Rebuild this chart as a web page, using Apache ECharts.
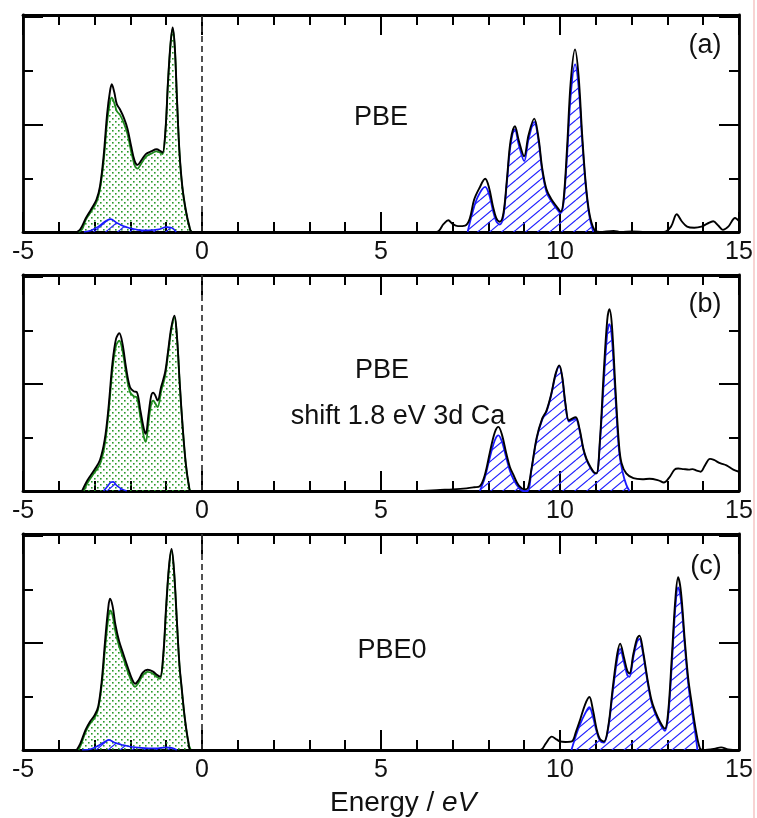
<!DOCTYPE html>
<html>
<head>
<meta charset="utf-8">
<script src="https://cdn.jsdelivr.net/npm/echarts@6/dist/echarts.min.js"></script>
<style>html,body{margin:0;padding:0;background:#fff;}#c{width:757px;height:818px;}</style>
</head>
<body>
<div id="c"></div>
<script>
// ---------- DATA ----------
const xTicks = [-5, 0, 5, 10, 15];
const panelLabels = ['(a)', '(b)', '(c)'];
const methodLabels = ['PBE', 'PBE', 'PBE0'];
const shiftLabel = 'shift 1.8 eV 3d Ca';
const xAxisTitle = 'Energy / ';
const xAxisUnit = 'eV';

// Panel (a)
const totalA = [[-3.5,0],[-3.4,0.05],[-3.25,0.25],[-3.1,0.42],[-2.95,0.6],[-2.85,0.85],[-2.75,1.4],[-2.65,2.2],[-2.57,2.62],[-2.52,2.75],[-2.45,2.6],[-2.38,2.38],[-2.29,2.28],[-2.18,2.12],[-2.08,1.92],[-1.98,1.6],[-1.88,1.32],[-1.8,1.25],[-1.7,1.33],[-1.57,1.45],[-1.42,1.5],[-1.27,1.54],[-1.15,1.5],[-1.1,1.48],[-1.02,1.9],[-0.95,2.8],[-0.88,3.5],[-0.82,3.81],[-0.76,3.45],[-0.7,2.5],[-0.63,1.5],[-0.55,0.85],[-0.45,0.4],[-0.35,0.1],[-0.28,0],[6.55,0],[6.75,0.15],[6.88,0.22],[7.0,0.15],[7.15,0.11],[7.35,0.12],[7.48,0.25],[7.6,0.6],[7.75,0.82],[7.91,0.99],[8.02,0.82],[8.12,0.5],[8.22,0.26],[8.32,0.19],[8.42,0.35],[8.52,1.0],[8.62,1.7],[8.74,1.97],[8.85,1.7],[9.0,1.41],[9.12,1.8],[9.28,2.11],[9.4,1.75],[9.5,1.2],[9.62,0.8],[9.75,0.62],[9.9,0.48],[10.02,0.38],[10.1,0.6],[10.2,1.6],[10.3,2.8],[10.42,3.4],[10.52,2.9],[10.62,1.8],[10.72,0.9],[10.82,0.35],[10.95,0.05],[11.1,0],[11.5,0.02],[11.7,0],[12.0,0.01],[12.4,0],[12.9,0],[13.1,0.1],[13.26,0.33],[13.4,0.2],[13.55,0.1],[13.75,0.08],[13.95,0.1],[14.1,0.15],[14.28,0.2],[14.42,0.12],[14.55,0.04],[14.7,0.1],[14.89,0.26],[15,0.2]];
const greenA = [[-3.45,0],[-3.35,0.05],[-3.25,0.22],[-3.1,0.38],[-2.95,0.55],[-2.85,0.8],[-2.75,1.3],[-2.65,2.05],[-2.57,2.42],[-2.52,2.5],[-2.45,2.4],[-2.38,2.25],[-2.29,2.18],[-2.18,2.02],[-2.08,1.82],[-1.98,1.5],[-1.88,1.24],[-1.8,1.18],[-1.7,1.27],[-1.57,1.4],[-1.42,1.46],[-1.27,1.5],[-1.15,1.47],[-1.1,1.45],[-1.02,1.88],[-0.95,2.78],[-0.88,3.48],[-0.82,3.78],[-0.76,3.42],[-0.7,2.48],[-0.63,1.48],[-0.55,0.83],[-0.45,0.38],[-0.35,0.08],[-0.29,0]];
const blueValA = [[-3.3,0],[-3.1,0.03],[-2.9,0.1],[-2.7,0.2],[-2.55,0.24],[-2.4,0.18],[-2.2,0.11],[-2.0,0.07],[-1.8,0.04],[-1.5,0.03],[-1.2,0.05],[-1.0,0.09],[-0.85,0.08],[-0.72,0]];
const blueCondA = [[7.42,0],[7.55,0.35],[7.7,0.65],[7.91,0.84],[8.02,0.7],[8.12,0.42],[8.22,0.2],[8.32,0.14],[8.42,0.3],[8.52,0.95],[8.62,1.62],[8.74,1.91],[8.85,1.62],[9.0,1.32],[9.12,1.72],[9.28,2.05],[9.4,1.7],[9.5,1.15],[9.62,0.75],[9.75,0.58],[9.9,0.44],[10.02,0.35],[10.1,0.55],[10.2,1.45],[10.3,2.55],[10.42,3.12],[10.52,2.7],[10.62,1.7],[10.72,0.85],[10.82,0.3],[10.93,0]];

// Panel (b)
const totalB = [[-3.35,0],[-3.2,0.2],[-3.0,0.4],[-2.85,0.58],[-2.72,0.95],[-2.62,1.5],[-2.5,2.4],[-2.4,2.85],[-2.31,2.95],[-2.22,2.75],[-2.12,2.3],[-2.01,1.94],[-1.9,1.86],[-1.82,1.85],[-1.72,1.5],[-1.62,1.15],[-1.57,1.07],[-1.5,1.4],[-1.42,1.78],[-1.36,1.84],[-1.3,1.78],[-1.24,1.69],[-1.14,1.95],[-1.03,2.22],[-0.95,2.6],[-0.86,3.05],[-0.77,3.28],[-0.7,2.9],[-0.62,2.0],[-0.54,1.2],[-0.45,0.5],[-0.36,0.08],[-0.32,0],[6.0,0],[6.65,0.02],[7.0,0.03],[7.39,0.05],[7.6,0.07],[7.76,0.09],[7.9,0.3],[8.05,0.75],[8.18,1.1],[8.28,1.2],[8.38,1.05],[8.5,0.7],[8.6,0.45],[8.7,0.3],[8.85,0.1],[9.02,0.03],[9.1,0.05],[9.2,0.4],[9.35,1.0],[9.5,1.35],[9.62,1.5],[9.75,1.8],[9.88,2.2],[9.98,2.35],[10.06,2.15],[10.15,1.65],[10.25,1.32],[10.35,1.36],[10.44,1.38],[10.55,1.15],[10.65,0.8],[10.74,0.6],[10.85,0.45],[10.95,0.35],[11.02,0.33],[11.12,1.0],[11.22,2.2],[11.32,3.2],[11.38,3.4],[11.45,3.1],[11.55,1.9],[11.65,0.85],[11.72,0.52],[11.85,0.33],[12.05,0.24],[12.3,0.22],[12.5,0.23],[12.75,0.2],[12.9,0.16],[13.05,0.25],[13.2,0.4],[13.3,0.42],[13.45,0.41],[13.6,0.4],[13.7,0.41],[13.82,0.38],[13.93,0.36],[14.05,0.48],[14.19,0.6],[14.3,0.58],[14.47,0.52],[14.65,0.48],[14.84,0.4],[15,0.36]];
const greenB = [[-3.3,0],[-3.2,0.15],[-3.0,0.35],[-2.85,0.5],[-2.72,0.85],[-2.62,1.4],[-2.5,2.28],[-2.4,2.72],[-2.31,2.81],[-2.22,2.62],[-2.12,2.2],[-2.01,1.85],[-1.9,1.77],[-1.82,1.75],[-1.72,1.38],[-1.62,1.0],[-1.57,0.92],[-1.5,1.25],[-1.42,1.62],[-1.36,1.69],[-1.3,1.63],[-1.24,1.57],[-1.14,1.87],[-1.03,2.15],[-0.95,2.55],[-0.86,3.0],[-0.77,3.25],[-0.7,2.88],[-0.62,1.98],[-0.54,1.18],[-0.45,0.48],[-0.36,0.06],[-0.32,0]];
const blueValB = [[-2.75,0],[-2.65,0.08],[-2.55,0.16],[-2.48,0.17],[-2.38,0.1],[-2.25,0.04],[-2.1,0]];
const blueCondB = [[7.76,0],[7.9,0.25],[8.05,0.65],[8.18,0.95],[8.28,1.04],[8.38,0.92],[8.5,0.62],[8.6,0.38],[8.7,0.22],[8.85,0.06],[8.97,0],[9.1,0],[9.2,0.38],[9.35,0.98],[9.5,1.33],[9.62,1.48],[9.75,1.78],[9.88,2.18],[9.98,2.33],[10.06,2.13],[10.15,1.62],[10.25,1.3],[10.35,1.33],[10.44,1.35],[10.55,1.12],[10.65,0.78],[10.74,0.58],[10.85,0.43],[10.95,0.34],[11.02,0.33],[11.12,0.95],[11.22,2.0],[11.32,2.95],[11.38,3.12],[11.45,2.85],[11.55,1.75],[11.65,0.75],[11.75,0.35],[11.85,0.12],[11.94,0]];

// Panel (c)
const totalC = [[-3.5,0],[-3.4,0.12],[-3.25,0.38],[-3.13,0.53],[-3.0,0.65],[-2.9,0.81],[-2.8,1.3],[-2.7,2.1],[-2.62,2.65],[-2.57,2.83],[-2.5,2.7],[-2.42,2.35],[-2.32,2.05],[-2.2,1.8],[-2.05,1.5],[-1.95,1.32],[-1.87,1.24],[-1.78,1.3],[-1.65,1.45],[-1.52,1.5],[-1.38,1.47],[-1.25,1.4],[-1.17,1.37],[-1.08,1.8],[-1.0,2.7],[-0.92,3.45],[-0.85,3.76],[-0.78,3.35],[-0.7,2.4],[-0.63,1.6],[-0.57,1.18],[-0.48,0.6],[-0.38,0.15],[-0.31,0],[9.45,0],[9.6,0.12],[9.77,0.25],[9.9,0.2],[10.0,0.16],[10.15,0.15],[10.33,0.16],[10.45,0.35],[10.56,0.56],[10.7,0.85],[10.82,0.99],[10.92,0.75],[11.02,0.4],[11.12,0.2],[11.23,0.16],[11.35,0.45],[11.48,1.2],[11.6,1.8],[11.68,1.99],[11.78,1.75],[11.88,1.48],[11.94,1.43],[12.05,1.8],[12.15,2.08],[12.22,2.14],[12.32,1.85],[12.45,1.3],[12.55,0.95],[12.65,0.74],[12.8,0.52],[12.93,0.4],[13.02,0.7],[13.12,1.7],[13.22,2.8],[13.3,3.23],[13.38,2.95],[13.48,2.1],[13.58,1.35],[13.68,0.87],[13.8,0.35],[13.91,0.03],[14.0,0],[14.3,0.02],[14.5,0.05],[14.7,0.01],[15,0]];
const greenC = [[-3.45,0],[-3.38,0.1],[-3.25,0.34],[-3.13,0.49],[-3.0,0.6],[-2.9,0.77],[-2.8,1.22],[-2.7,1.95],[-2.62,2.45],[-2.57,2.61],[-2.5,2.52],[-2.42,2.22],[-2.32,1.95],[-2.2,1.72],[-2.05,1.42],[-1.95,1.25],[-1.87,1.18],[-1.78,1.25],[-1.65,1.4],[-1.52,1.46],[-1.38,1.43],[-1.25,1.36],[-1.17,1.33],[-1.08,1.76],[-1.0,2.66],[-0.92,3.42],[-0.85,3.73],[-0.78,3.32],[-0.7,2.38],[-0.63,1.58],[-0.57,1.16],[-0.48,0.58],[-0.38,0.13],[-0.31,0]];
const blueValC = [[-3.35,0],[-3.1,0.02],[-2.9,0.08],[-2.7,0.16],[-2.6,0.19],[-2.45,0.14],[-2.25,0.1],[-2.0,0.06],[-1.7,0.04],[-1.3,0.03],[-1.0,0.05],[-0.85,0.04],[-0.7,0]];
const blueCondC = [[10.32,0],[10.45,0.28],[10.56,0.48],[10.7,0.68],[10.82,0.8],[10.92,0.62],[11.02,0.35],[11.12,0.17],[11.23,0.14],[11.35,0.42],[11.48,1.12],[11.6,1.7],[11.68,1.89],[11.78,1.66],[11.88,1.4],[11.94,1.37],[12.05,1.74],[12.15,2.02],[12.22,2.08],[12.32,1.8],[12.45,1.25],[12.55,0.9],[12.65,0.7],[12.8,0.48],[12.93,0.36],[13.02,0.62],[13.12,1.55],[13.22,2.65],[13.3,3.04],[13.38,2.8],[13.48,2.0],[13.58,1.25],[13.68,0.75],[13.78,0.3],[13.84,0]];

const fermiLine = [[0, 0], [0, 4.04]];

// ---------- STYLE / LAYOUT ----------
const FONT = "'Liberation Sans', Arial, Helvetica, sans-serif";
const X_MIN = -5, X_MAX = 15, Y_MAX = 4.04;
const panels = [
  {top: 15, height: 217, total: totalA, green: greenA, bv: blueValA, bc: blueCondA},
  {top: 275, height: 216, total: totalB, green: greenB, bv: blueValB, bc: blueCondB},
  {top: 534, height: 216, total: totalC, green: greenC, bv: blueValC, bc: blueCondC}
];

function dotPattern() {
  const c = document.createElement('canvas');
  c.width = 6; c.height = 6;
  const g = c.getContext('2d');
  g.fillStyle = '#2a9a2a';
  g.fillRect(1, 1, 1.6, 1.6);
  g.fillRect(4, 4, 1.6, 1.6);
  return c;
}
function hatchPattern() {
  const w = 12, h = 10;
  const c = document.createElement('canvas');
  c.width = w; c.height = h;
  const g = c.getContext('2d');
  g.strokeStyle = '#2424ff';
  g.lineWidth = 1.2;
  g.beginPath();
  for (let n = -1; n <= 1; n++) {
    g.moveTo(0, h * (1 + n));
    g.lineTo(w, h * n);
  }
  g.stroke();
  return c;
}
const DOTS = {image: dotPattern(), repeat: 'repeat'};
const HATCH = {image: hatchPattern(), repeat: 'repeat'};

const grids = [], xAxes = [], yAxes = [], series = [];
const tickStyle = {color: '#000', width: 2};
const lineStyleAxis = {color: '#000', width: 2.8};

panels.forEach((p, i) => {
  grids.push({left: 23, top: p.top, width: 716, height: p.height, containLabel: false});
  const baseX = {
    type: 'value', gridIndex: i, min: X_MIN, max: X_MAX, interval: 5,
    axisLine: {show: true, onZero: false, lineStyle: lineStyleAxis},
    axisTick: {show: true, inside: true, length: 20, lineStyle: tickStyle},
    minorTick: {show: true, splitNumber: 5, length: 10, lineStyle: tickStyle},
    splitLine: {show: false}, minorSplitLine: {show: false}
  };
  xAxes.push(Object.assign({}, baseX, {
    position: 'bottom',
    axisLabel: {show: true, fontSize: 25, fontFamily: FONT, color: '#111', margin: 8,
      showMinLabel: true, showMaxLabel: true}
  }));
  xAxes.push(Object.assign({}, baseX, {position: 'top', axisLabel: {show: false}}));
  const baseY = {
    type: 'value', gridIndex: i, min: 0, max: Y_MAX, interval: 2,
    axisLine: {show: true, onZero: false, lineStyle: lineStyleAxis},
    axisTick: {show: true, inside: true, length: 20, lineStyle: tickStyle},
    minorTick: {show: true, splitNumber: 2, length: 10, lineStyle: tickStyle},
    axisLabel: {show: false},
    splitLine: {show: false}, minorSplitLine: {show: false}
  };
  yAxes.push(Object.assign({}, baseY, {position: 'left'}));
  yAxes.push(Object.assign({}, baseY, {position: 'right'}));

  const xi = 2 * i, yi = 2 * i;
  const common = {type: 'line', xAxisIndex: xi, yAxisIndex: yi, symbol: 'none', smooth: 0.35,
    animation: false, silent: true};
  series.push(Object.assign({}, common, {data: p.green, z: 2,
    lineStyle: {color: '#1e8c1e', width: 1.8}, areaStyle: {color: DOTS, opacity: 1}}));
  series.push(Object.assign({}, common, {data: p.bv, z: 3,
    lineStyle: {color: '#1a1aff', width: 1.6}, areaStyle: {color: HATCH, opacity: 1}}));
  series.push(Object.assign({}, common, {data: p.bc, z: 3,
    lineStyle: {color: '#1a1aff', width: 1.8}, areaStyle: {color: HATCH, opacity: 1}}));
  series.push(Object.assign({}, common, {data: p.total, z: 4,
    lineStyle: {color: '#000', width: 1.9}}));
  series.push(Object.assign({}, common, {data: fermiLine, smooth: false, z: 1,
    lineStyle: {color: '#333', width: 1.7, type: [6, 4]}}));
});

function txt(text, x, y, size, align) {
  return {type: 'text', x: x, y: y, z: 10, silent: true,
    style: {text: text, fontSize: size, fontFamily: FONT, fill: '#111',
      align: align || 'center', verticalAlign: 'middle',
      textAlign: align || 'center', textVerticalAlign: 'middle'}};
}

const graphics = [
  txt(methodLabels[0], 381, 118, 27),
  txt(panelLabels[0], 705, 46, 27),
  txt(methodLabels[1], 382, 371, 27),
  txt(shiftLabel, 398, 417, 27),
  txt(panelLabels[1], 705, 305, 27),
  txt(methodLabels[2], 392, 651, 27),
  txt(panelLabels[2], 706, 567, 27),
  {type: 'text', x: 330, y: 803, z: 10, silent: true,
    style: {text: xAxisTitle + '{i|' + xAxisUnit + '}', fontSize: 28, fontFamily: FONT, fill: '#111',
      align: 'left', verticalAlign: 'middle', textAlign: 'left', textVerticalAlign: 'middle',
      rich: {i: {fontStyle: 'italic', fontSize: 28, fontFamily: FONT, fill: '#111'}}}},
  {type: 'line', silent: true, z: 0,
    shape: {x1: 754, y1: 0, x2: 754, y2: 818},
    style: {stroke: '#f6c4c4', lineWidth: 1.5}}
];

const chart = echarts.init(document.getElementById('c'), null, {renderer: 'canvas'});
chart.setOption({
  animation: false,
  backgroundColor: '#fff',
  grid: grids,
  xAxis: xAxes,
  yAxis: yAxes,
  series: series,
  graphic: graphics
});
</script>
</body>
</html>
